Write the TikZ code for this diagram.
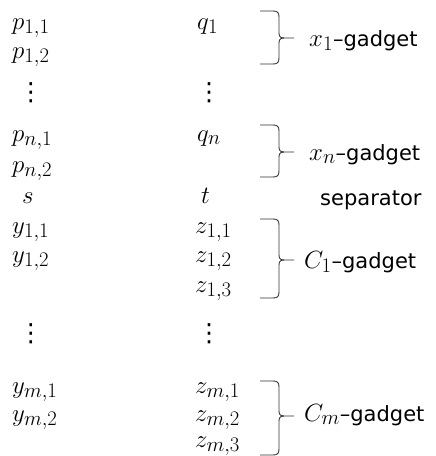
\documentclass[tikz,border=0pt]{standalone}
\usepackage{fontspec}
\setmainfont{DejaVu Sans}
\DeclareMathSizes{24.88}{24.88}{20.74}{14.4}
\newcommand{\gbrace}[3]{%
  \draw[bracestyle] (260,#1) -- (273,#1) .. controls (277.5,#1) and (279,#1+1.5) .. (279,#1+6)
     -- (279,#2-5) .. controls (279,#2-1.5) and (280.5,#2) .. (284,#2) -- (294,#2);
  \draw[bracestyle] (284,#2) .. controls (280.5,#2) and (279,#2+1.5) .. (279,#2+5)
     -- (279,#3-6) .. controls (279,#3-1.5) and (277.5,#3) .. (273,#3) -- (260,#3);}
\newcommand{\mfs}{\fontsize{24.88}{28}\selectfont}
\begin{document}
\begin{tikzpicture}[x=1pt,y=-1pt,
  mlbl/.style={font=\mfs, inner sep=0pt, anchor=base west},
  dlbl/.style={font=\fontsize{25}{27}\selectfont, inner sep=0pt, anchor=base},
  glbl/.style={font=\fontsize{21}{25}\selectfont, inner sep=0pt, anchor=base west},
  bracestyle/.style={draw=black!80, line width=0.9pt}]
\useasboundingbox (0,0) rectangle (436,456);
% left column
\node[mlbl] (p11) at (12,29) {$p_{1,1}$};
\node[mlbl] (p12) at (12,58) {$p_{1,2}$};
\node[dlbl] (ld1) at (31,100.5) {⋮};
\node[mlbl] (pn1) at (12,141) {$p_{n,1}$};
\node[mlbl] (pn2) at (12,172) {$p_{n,2}$};
\node[mlbl] (s) at (22,203) {$s$};
\node[mlbl] (y11) at (12,233) {$y_{1,1}$};
\node[mlbl] (y12) at (12,262) {$y_{1,2}$};
\node[dlbl] (ld2) at (31,341.5) {⋮};
\node[mlbl] (ym1) at (12,393) {$y_{m,1}$};
\node[mlbl] (ym2) at (12,421) {$y_{m,2}$};
% right column
\node[mlbl] (q1) at (197,29) {$q_1$};
\node[dlbl] (rd1) at (209,100.5) {⋮};
\node[mlbl] (qn) at (197,141) {$q_n$};
\node[mlbl] (t) at (201,203) {$t$};
\node[mlbl] (z11) at (195,233) {$z_{1,1}$};
\node[mlbl] (z12) at (195,262) {$z_{1,2}$};
\node[mlbl] (z13) at (195,292) {$z_{1,3}$};
\node[dlbl] (rd2) at (209,341.5) {⋮};
\node[mlbl] (zm1) at (195,393) {$z_{m,1}$};
\node[mlbl] (zm2) at (195,421) {$z_{m,2}$};
\node[mlbl] (zm3) at (195,447) {$z_{m,3}$};
% braces
\gbrace{11}{38}{64}
\gbrace{125}{152}{177}
\gbrace{219}{260}{298}
\gbrace{381}{416}{455}
% labels
\node[glbl] (gx1) at (309,46) {{\mfs$x_1$}–gadget};
\node[glbl] (gxn) at (309,160) {{\mfs$x_n$}–gadget};
\node[glbl] (sep) at (320,205) {separator};
\node[glbl] (gc1) at (304,268) {{\mfs$C_1$}–gadget};
\node[glbl] (gcm) at (304,421) {{\mfs$C_m$}–gadget};
\end{tikzpicture}
\end{document}
